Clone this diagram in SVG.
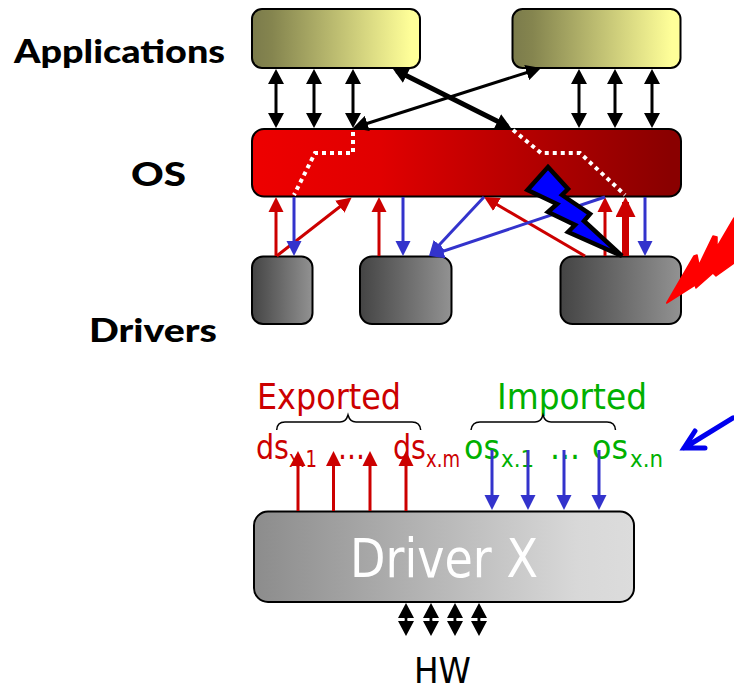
<svg xmlns="http://www.w3.org/2000/svg" width="734" height="688" viewBox="0 0 734 688">
<style>
.box{stroke:#000;stroke-width:2}
.lbl{font-family:"Lato","Liberation Sans",sans-serif;font-weight:900;font-size:33px;fill:#000}
.t{font-family:"DejaVu Sans","Liberation Sans",sans-serif}
.r{fill:#cc0000}.g{fill:#00b000}
.big{font-size:36px}.mid{font-size:34px}.sub{font-size:23px}
.k{stroke:#000;stroke-width:3;fill:none;marker-start:url(#kh);marker-end:url(#kh)}
.rd{stroke:#cc0000;stroke-width:3;fill:none;marker-end:url(#rh)}
.bl{stroke:#3333cc;stroke-width:3;fill:none;marker-end:url(#bh)}
.dot{stroke:#fff;stroke-width:4;fill:none;stroke-dasharray:4 4}
.br{stroke:#000;stroke-width:1.5;fill:none}
</style>
<defs>
<linearGradient id="ga"><stop offset="0" stop-color="#7b7b4b"/><stop offset=".12" stop-color="#85854f"/><stop offset=".95" stop-color="#ffff99"/></linearGradient>
<linearGradient id="go"><stop offset="0" stop-color="#ee0000"/><stop offset=".3" stop-color="#e00000"/><stop offset=".97" stop-color="#8a0000"/></linearGradient>
<linearGradient id="gd"><stop offset="0" stop-color="#444"/><stop offset="1" stop-color="#929292"/></linearGradient>
<linearGradient id="gx"><stop offset="0" stop-color="#8c8c8c"/><stop offset=".85" stop-color="#d8d8d8"/><stop offset="1" stop-color="#dcdcdc"/></linearGradient>
<marker id="kh" markerUnits="userSpaceOnUse" markerWidth="16" markerHeight="16" refX="11" refY="8" orient="auto-start-reverse"><path d="M0,0L15,8L0,16z" fill="#000"/></marker>
<marker id="rh" markerUnits="userSpaceOnUse" markerWidth="16" markerHeight="16" refX="11" refY="8" orient="auto"><path d="M0,0.5L15,8L0,15.5z" fill="#cc0000"/></marker>
<marker id="bh" markerUnits="userSpaceOnUse" markerWidth="16" markerHeight="16" refX="11" refY="8" orient="auto"><path d="M0,0.5L15,8L0,15.5z" fill="#3333cc"/></marker>
<marker id="rb" markerUnits="userSpaceOnUse" markerWidth="21" markerHeight="21" refX="15" refY="10" orient="auto"><path d="M0,0L20,10L0,20z" fill="#cc0000"/></marker>
</defs>

<g id="app-1"><rect class="box" x="252" y="9" width="168" height="59" rx="10" fill="url(#ga)"/></g>
<g id="app-2"><rect class="box" x="512.500" y="9" width="168" height="59" rx="10" fill="url(#ga)"/></g>
<g id="os"><rect class="box" x="252" y="129" width="429" height="67.500" rx="12" fill="url(#go)"/></g>
<g id="driver-1"><rect class="box" x="252" y="256.500" width="60.500" height="67.500" rx="11" fill="url(#gd)"/></g>
<g id="driver-2"><rect class="box" x="360" y="256.500" width="91.500" height="67.500" rx="12" fill="url(#gd)"/></g>
<g id="driver-3"><rect class="box" x="560.500" y="256.500" width="120.500" height="67.500" rx="12" fill="url(#gd)"/></g>
<g id="driver-x"><rect class="box" x="254" y="511.500" width="380" height="90.500" rx="14" fill="url(#gx)"/><text class="t" x="350" y="577" font-size="53" fill="#fff" textLength="188" lengthAdjust="spacingAndGlyphs">Driver X</text></g>

<g id="labels">
<text class="lbl" x="14" y="63" textLength="211" lengthAdjust="spacingAndGlyphs">Applications</text>
<text class="lbl" x="131" y="186" textLength="55" lengthAdjust="spacingAndGlyphs">OS</text>
<text class="lbl" x="89" y="342" textLength="128" lengthAdjust="spacingAndGlyphs">Drivers</text>
<text class="t big r" x="257" y="409" textLength="144" lengthAdjust="spacingAndGlyphs">Exported</text>
<text class="t big g" x="497" y="409" textLength="150" lengthAdjust="spacingAndGlyphs">Imported</text>
<text class="t mid r" x="256" y="459" textLength="33" lengthAdjust="spacingAndGlyphs">ds</text>
<text class="t sub r" x="289" y="467" textLength="28" lengthAdjust="spacingAndGlyphs">x.1</text>
<text class="t mid r" x="338" y="459" textLength="27" lengthAdjust="spacingAndGlyphs">...</text>
<text class="t mid r" x="393" y="459" textLength="33" lengthAdjust="spacingAndGlyphs">ds</text>
<text class="t sub r" x="426" y="467" textLength="34" lengthAdjust="spacingAndGlyphs">x.m</text>
<text class="t mid g" x="464" y="459" textLength="36" lengthAdjust="spacingAndGlyphs">os</text>
<text class="t sub g" x="501" y="467" textLength="33" lengthAdjust="spacingAndGlyphs">x.1</text>
<text class="t mid g" x="550" y="459" textLength="30" lengthAdjust="spacingAndGlyphs">...</text>
<text class="t mid g" x="592" y="459" textLength="36" lengthAdjust="spacingAndGlyphs">os</text>
<text class="t sub g" x="630" y="467" textLength="33" lengthAdjust="spacingAndGlyphs">x.n</text>
<text class="t big" x="414" y="683" textLength="57" lengthAdjust="spacingAndGlyphs" fill="#000">HW</text>
<path class="br" d="M276.700,430Q277,422 285,422H340Q346,422 348,415Q350,422 356,422H412Q420,422 420.700,430"/>
<path class="br" d="M471,430Q472,422 480,422H535Q541,422 543,415Q545,422 551,422H607Q615,422 615.500,430"/>
</g>

<g id="connectors">
<path class="k" d="M276,73V124"/>
<path class="k" d="M314,73V124"/>
<path class="k" d="M353,73V124"/>
<path class="k" d="M579,73V124"/>
<path class="k" d="M615,73V124"/>
<path class="k" d="M652,73V124"/>
<path class="k" d="M537.200,69.200L356.800,126.800"/>
<path class="k" style="stroke-width:5" d="M396.600,70.800L507.400,126.200"/>
<path class="dot" d="M353,132V153H315L294,195"/>
<path class="dot" d="M513,130L541,153H580L625,195"/>
<path class="rd" d="M276,256V201"/>
<path class="rd" d="M276.700,256L348.500,200"/>
<path class="rd" d="M379,256V201"/>
<path class="rd" d="M585,256L487.500,199"/>
<path class="rd" d="M605,256V201"/>
<path d="M625.500,256V202" fill="none" stroke="#cc0000" stroke-width="7" marker-end="url(#rb)"/>
<path class="bl" d="M294,197V252"/>
<path class="bl" d="M403,197V252"/>
<path class="bl" d="M484,197L431.700,253"/>
<path class="bl" d="M605,197L432.800,254.700"/>
<path class="bl" d="M645,197V252"/>
<path class="rd" d="M298,511V455"/>
<path class="rd" d="M333.500,511V455"/>
<path class="rd" d="M370,511V455"/>
<path class="rd" d="M406,511V455"/>
<path class="bl" d="M492,450V506"/>
<path class="bl" d="M528,450V506"/>
<path class="bl" d="M564,450V506"/>
<path class="bl" d="M599,450V506"/>
<path class="k" d="M406,607V632"/>
<path class="k" d="M431,607V632"/>
<path class="k" d="M455,607V632"/>
<path class="k" d="M479,607V632"/>
<path d="M398,619.500h6.500M407.500,619.500h15M432.500,619.500h14.500M456.500,619.500h14.500M480.500,619.500h7" stroke="#fff" stroke-width="1.500"/>
<path d="M684,448L733,418M695,431L684,448L705,448" fill="none" stroke="#0000ee" stroke-width="5" stroke-linecap="round"/>
</g>

<g id="fault-bolts">
<path d="M548,167L568,189L562,195L590,214L584,221L622,256L568,232L575,225L548,212L557,204L527.500,190Z" fill="#0000ff" stroke="#000" stroke-width="4.500" stroke-miterlimit="4"/>
<path d="M666.700,303L694,256L697,255L699,265L713,236L717,237L717,247L734,218V263L716,276L713,273L696,288L695,285Z" fill="#ff0000" stroke="#ff0000" stroke-width="1.500" stroke-linejoin="round"/>
</g>
</svg>
